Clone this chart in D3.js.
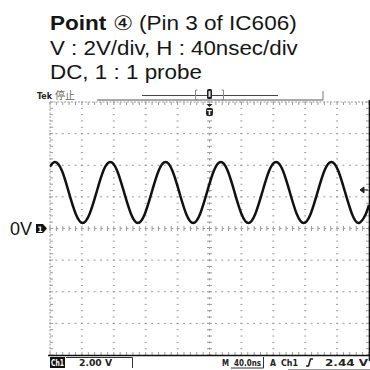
<!DOCTYPE html>
<html><head><meta charset="utf-8">
<script src="https://cdn.jsdelivr.net/npm/d3@7"></script>
<style>body{margin:0;background:#fff}svg{display:block}</style>
</head><body><svg id="c" width="370" height="370"></svg>
<script>
// ---- data ----
const titleBold = "Point";
const titleLines = [" \u2463 (Pin 3 of IC606)", "V : 2V/div, H : 40nsec/div", "DC, 1 : 1 probe"];
const timeNs = [0, 6.3, 15.0, 23.6, 32.3, 40.9, 49.6, 58.3, 66.9, 75.6, 84.2, 92.9, 101.6, 110.2, 118.9, 127.5, 136.2,
  144.9, 153.5, 162.2, 170.8, 179.5, 188.2, 196.8, 205.5, 214.2, 222.8, 231.5, 240.1, 248.8, 257.4, 266.1, 274.8,
  283.5, 292.1, 300.8, 309.4, 318.1, 326.8, 335.4, 344.1, 352.8, 361.4, 370.1, 378.7, 387.4, 396.0, 400];
const voltage = [3.90, 4.20, 3.65, 2.28, 0.92, 0.35, 0.92, 2.28, 3.65, 4.20, 3.65, 2.28, 0.92, 0.35, 0.92, 2.28, 3.65,
  4.20, 3.65, 2.28, 0.92, 0.35, 0.92, 2.28, 3.65, 4.20, 3.65, 2.28, 0.92, 0.35, 0.92, 2.28, 3.65,
  4.20, 3.65, 2.28, 0.92, 0.35, 0.92, 2.28, 3.65, 4.20, 3.65, 2.28, 0.92, 0.35, 0.92, 1.49];
const timeDomain = [0, 400];
const voltDomain = [-8, 8];
const timeDivs = d3.range(0, 401, 40);
const voltDivs = d3.range(-8, 8.01, 2);
const triggerLevel = 2.44;
const headerLabels = ["Tek", "\u505C\u6B62"];
const zeroLabel = "0V";
const chLabel = "Ch1";
const voltsPerDiv = "2.00 V";
const timeLabels = ["M", "40.0ns", "A", "Ch1", "2.44 V"];

// ---- layout ----
const svg = d3.select("#c");
const L = 50, R = 369, T = 102, B = 355;
const x = d3.scaleLinear().domain(timeDomain).range([L, R]);
const y = d3.scaleLinear().domain(voltDomain).range([B, T]);
const gridCol = "#9a9a9a";

// title
const tg = svg.append("g").attr("font-family", "'Liberation Sans', Arial, sans-serif").attr("fill", "#151515");
const t1 = tg.append("text").attr("x", 0).attr("y", 0).attr("font-size", 20);
t1.append("tspan").attr("font-weight", "bold").text(titleBold);
t1.append("tspan").text(titleLines[0]);
const t2 = tg.append("text").attr("font-size", 20).text(titleLines[1]);
const t3 = tg.append("text").attr("font-size", 20).text(titleLines[2]);
function fit(sel, x0, base, w) {
  const bw = sel.node().getComputedTextLength();
  sel.attr("transform", `translate(${x0},${base}) scale(${w / bw},1)`);
}
fit(t1, 50, 30, 247);
fit(t2, 50, 55, 248);
fit(t3, 50, 79, 152);

// header
svg.append("text").attr("x", 37).attr("y", 98.5).attr("font-family", "'DejaVu Sans', sans-serif")
  .attr("font-weight", "bold").attr("font-size", 9.5).attr("fill", "#222").text(headerLabels[0])
  .attr("textLength", 15).attr("lengthAdjust", "spacingAndGlyphs");
svg.append("text").attr("x", 55).attr("y", 98.5).attr("font-family", "'Noto Sans CJK JP', sans-serif")
  .attr("font-size", 10).attr("fill", "#666").text(headerLabels[1]);
svg.append("line").attr("x1", 97).attr("x2", 323).attr("y1", 100).attr("y2", 100).attr("stroke", "#555").attr("stroke-width", 1);
svg.append("line").attr("x1", 323).attr("x2", 323).attr("y1", 91).attr("y2", 100).attr("stroke", "#777").attr("stroke-width", 1);
svg.append("line").attr("x1", 142).attr("x2", 278).attr("y1", 95.5).attr("y2", 95.5).attr("stroke", "#444").attr("stroke-width", 1);
// brackets around trigger position
const bx = x(200);
svg.append("path").attr("d", `M${bx - 12},90 h-2 v10 h2 M${bx + 12},90 h2 v10 h-2`).attr("fill", "none").attr("stroke", "#888").attr("stroke-width", 1);
svg.append("rect").attr("x", bx - 2.5).attr("y", 89).attr("width", 5).attr("height", 10).attr("rx", 1.5).attr("fill", "#222");
svg.append("rect").attr("x", bx - 1).attr("y", 91).attr("width", 2).attr("height", 6).attr("fill", "#ddd");

// grid
const grid = svg.append("g");
const minorT = d3.range(timeDomain[0], timeDomain[1] + 0.01, 8);
const minorV = d3.range(voltDomain[0], voltDomain[1] + 0.01, 0.4);
voltDivs.slice(1, -1).forEach(v => {
  if (v === 0) return;
  grid.selectAll(null).data(minorT).enter().append("rect")
    .attr("x", d => x(d) - 1).attr("y", y(v) - 0.5).attr("width", 2).attr("height", 1).attr("fill", gridCol);
});
timeDivs.slice(1, -1).forEach(t => {
  if (t === 200) return;
  grid.selectAll(null).data(minorV).enter().append("rect")
    .attr("x", x(t) - 1).attr("y", d => y(d) - 0.5).attr("width", 2).attr("height", 1).attr("fill", gridCol);
});
grid.selectAll(null).data(minorT).enter().append("line")
  .attr("x1", d => x(d)).attr("x2", d => x(d)).attr("y1", y(0) - 2.5).attr("y2", y(0) + 2.5).attr("stroke", gridCol);
grid.append("line").attr("x1", L).attr("x2", R).attr("y1", y(0)).attr("y2", y(0)).attr("stroke", gridCol).attr("stroke-dasharray", "2,4.38");
grid.selectAll(null).data(minorV).enter().append("line")
  .attr("y1", d => y(d)).attr("y2", d => y(d)).attr("x1", x(200) - 2.5).attr("x2", x(200) + 2.5).attr("stroke", gridCol);
grid.append("line").attr("y1", T).attr("y2", B).attr("x1", x(200)).attr("x2", x(200)).attr("stroke", gridCol).attr("stroke-dasharray", "2,4.3");
grid.selectAll(null).data(minorT).enter().append("line")
  .attr("x1", d => x(d)).attr("x2", d => x(d)).attr("y1", T).attr("y2", T + 3).attr("stroke", gridCol);
grid.selectAll(null).data(minorT).enter().append("line")
  .attr("x1", d => x(d)).attr("x2", d => x(d)).attr("y1", B - 3).attr("y2", B).attr("stroke", gridCol);
grid.selectAll(null).data(minorV).enter().append("line")
  .attr("y1", d => y(d)).attr("y2", d => y(d)).attr("x1", L).attr("x2", L + 3).attr("stroke", gridCol);
grid.selectAll(null).data(minorV).enter().append("line")
  .attr("y1", d => y(d)).attr("y2", d => y(d)).attr("x1", R - 3).attr("x2", R).attr("stroke", gridCol);
grid.append("line").attr("x1", L).attr("x2", R).attr("y1", T).attr("y2", T).attr("stroke", gridCol).attr("stroke-dasharray", "2,1.5");
grid.append("line").attr("x1", L).attr("x2", L).attr("y1", T).attr("y2", B).attr("stroke", gridCol).attr("stroke-dasharray", "2,1.5");
grid.append("line").attr("x1", L - 2).attr("x2", 370).attr("y1", B + 0.5).attr("y2", B + 0.5).attr("stroke", "#111").attr("stroke-width", 1.6);
grid.append("line").attr("x1", R + 0.5).attr("x2", R + 0.5).attr("y1", T - 2).attr("y2", B + 6).attr("stroke", "#111").attr("stroke-width", 1.6);

// trigger position marker
svg.append("path").attr("d", `M${bx - 3},${T + 2} h6 l-3,3 z`).attr("fill", "#222");
svg.append("rect").attr("x", bx - 3.5).attr("y", T + 6).attr("width", 7).attr("height", 8).attr("rx", 2).attr("fill", "#222");
svg.append("text").attr("x", bx).attr("y", T + 12.5).attr("text-anchor", "middle").attr("font-family", "'DejaVu Sans', sans-serif")
  .attr("font-weight", "bold").attr("font-size", 7).attr("fill", "#fff").text("T");

// waveform
svg.append("defs").append("clipPath").attr("id", "clip").append("rect").attr("x", L).attr("y", T).attr("width", R - L).attr("height", B - T);
const line = d3.line().x((d, i) => x(timeNs[i])).y((d) => y(d)).curve(d3.curveNatural);
svg.append("path").attr("d", line(voltage)).attr("clip-path", "url(#clip)")
  .attr("fill", "none").attr("stroke", "#111").attr("stroke-width", 2.5).attr("stroke-linejoin", "round");

// 0V label and ground marker
svg.append("text").attr("x", 10).attr("y", y(0) + 6.5).attr("font-family", "'Liberation Sans', Arial, sans-serif")
  .attr("font-size", 18).attr("fill", "#111").text(zeroLabel);
svg.append("path").attr("d", `M36,${y(0) - 4.5} h7 l4,4.5 l-4,4.5 h-7 z`).attr("fill", "#111");
svg.append("text").attr("x", 40).attr("y", y(0) + 3).attr("text-anchor", "middle").attr("font-family", "'DejaVu Sans', sans-serif")
  .attr("font-weight", "bold").attr("font-size", 7.5).attr("fill", "#fff").text("1");

// trigger level arrow
const ty = y(triggerLevel);
svg.append("path").attr("d", `M360,${ty} l4,-3 v6 z M363,${ty} h5`).attr("fill", "#222").attr("stroke", "#222").attr("stroke-width", 1);

// status bar
const sf = "'DejaVu Sans', sans-serif";
svg.append("rect").attr("x", 50).attr("y", 357).attr("width", 15).attr("height", 11).attr("fill", "#111");
svg.append("text").attr("x", 51).attr("y", 366).attr("font-family", sf).attr("font-weight", "bold").attr("font-size", 9)
  .attr("fill", "#fff").text(chLabel).attr("textLength", 13).attr("lengthAdjust", "spacingAndGlyphs");
svg.append("path").attr("d", "M66,357.5 H132.5 V368").attr("fill", "none").attr("stroke", "#333").attr("stroke-width", 1);
svg.append("text").attr("x", 79).attr("y", 366).attr("font-family", sf).attr("font-weight", "bold").attr("font-size", 9)
  .attr("fill", "#222").text(voltsPerDiv).attr("textLength", 33).attr("lengthAdjust", "spacingAndGlyphs");

const rx = [222, 234, 270, 281, 325], rw = [7, 27, 6, 17, 43];
timeLabels.forEach((s, i) => {
  svg.append("text").attr("x", rx[i]).attr("y", 366).attr("font-family", sf).attr("font-weight", "bold").attr("font-size", 9)
    .attr("fill", "#222").text(s).attr("textLength", rw[i]).attr("lengthAdjust", "spacingAndGlyphs");
});
svg.append("path").attr("d", "M231,368 H263.5 V357").attr("fill", "none").attr("stroke", "#333").attr("stroke-width", 1);
svg.append("line").attr("x1", 288).attr("x2", 370).attr("y1", 369.5).attr("y2", 369.5).attr("stroke", "#999");
svg.append("path").attr("d", "M306,366 h2.5 l2,-7 h2.5").attr("fill", "none").attr("stroke", "#222").attr("stroke-width", 1.6);
</script></body></html>
